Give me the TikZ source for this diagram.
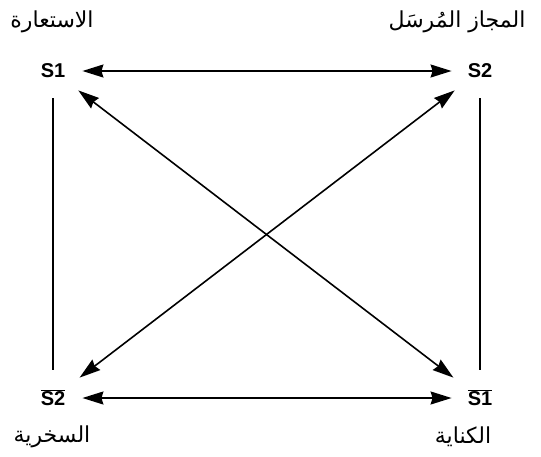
\documentclass[tikz,border=0pt]{standalone}
\usepackage{fontspec}
\setmainfont{Liberation Sans}
\newfontfamily\arabicfont[Script=Arabic]{DejaVu Sans}
\TeXXeTstate=1
\usepackage{tikz}
\usetikzlibrary{positioning,arrows.meta}

\begin{document}
\begin{tikzpicture}[x=1pt, y=-1pt,
  corner/.style={inner sep=3pt, font=\fontsize{20}{22}\selectfont\bfseries},
  arabic/.style={font=\fontsize{22}{26}\selectfont\arabicfont},
  arrow/.style={{Stealth[length=21pt,width=13pt,inset=2pt]}-{Stealth[length=21pt,width=13pt,inset=2pt]}, line width=1.6pt},
  link/.style={line width=1.6pt}
]
\useasboundingbox (0,0) rectangle (541,456);

\node[corner] (s1) at (53,71) {S1};
\node[corner] (s2) at (480,71) {S2};
\node[corner] (s2b) at (53,398) {$\overline{\hbox{\fontsize{20}{22}\selectfont\bfseries S2}}$};
\node[corner] (s1b) at (480,398) {$\overline{\hbox{\fontsize{20}{22}\selectfont\bfseries S1}}$};

\node[arabic] (istiara) at (52,22) {\beginR الاستعارة\endR};
\node[arabic] (majaz) at (457,22) {\beginR المجاز المُرسَل\endR};
\node[arabic] (sukhriya) at (52,437) {\beginR السخرية\endR};
\node[arabic] (kinaya) at (463,437) {\beginR الكناية\endR};

\draw[arrow, shorten <=14pt, shorten >=13pt] (s1) -- (s2);
\draw[arrow, shorten <=14pt, shorten >=13pt] (s2b) -- (s1b);
\draw[arrow, shorten <=15pt, shorten >=15pt] (s1) -- (s1b);
\draw[arrow, shorten <=15pt, shorten >=15pt] (s2) -- (s2b);

\draw[link, shorten <=17pt, shorten >=17pt] (s1) -- (s2b);
\draw[link, shorten <=17pt, shorten >=17pt] (s2) -- (s1b);
\end{tikzpicture}
\end{document}
